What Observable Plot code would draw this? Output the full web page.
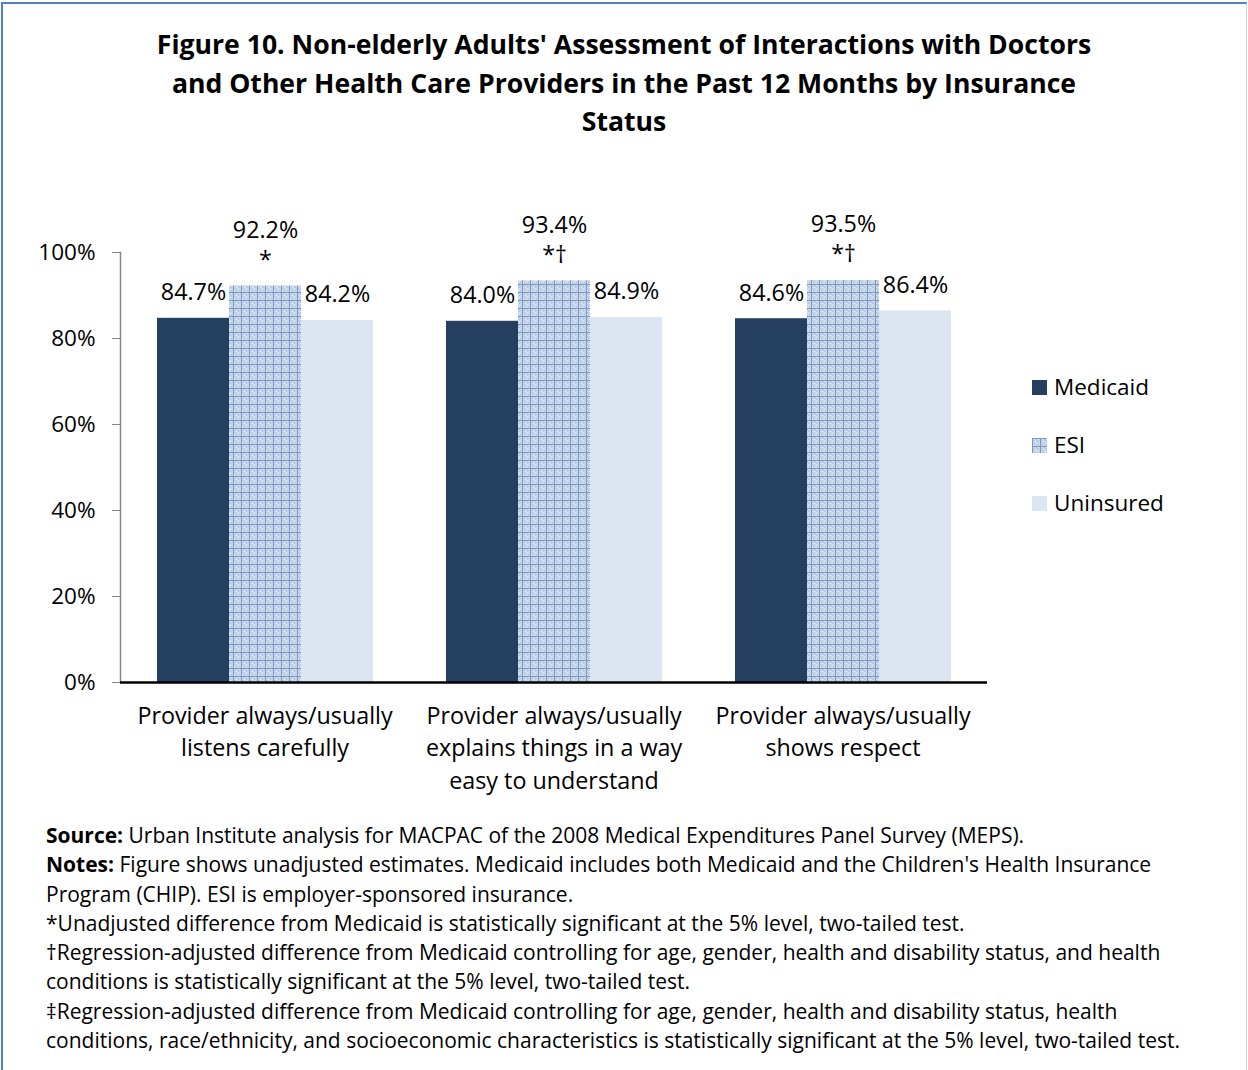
<!DOCTYPE html>
<html><head><meta charset="utf-8">
<script src="https://cdn.jsdelivr.net/npm/d3@7"></script>
<script src="https://cdn.jsdelivr.net/npm/@observablehq/plot@0.6"></script>
<style>
body{margin:0;background:#fff;font-family:"Open Sans", Lato, sans-serif;color:#000;}
#page{position:relative;width:1248px;height:1070px;overflow:hidden;}
#border{position:absolute;left:1px;top:2px;width:1243px;height:1100px;border-left:2px solid #4f81bd;border-top:2px solid #4f81bd;border-right:1px solid #c8d3e3;}
#title{position:absolute;left:0;width:1248px;top:25px;text-align:center;font-weight:bold;font-size:26.6px;line-height:38.5px;}
#chart{position:absolute;left:0;top:180px;}
#legend{position:absolute;left:1032px;top:358px;font-size:22.5px;}
#legend .row{height:58px;line-height:58px;display:flex;align-items:center;}
#legend svg{margin-right:7px;}
#notes{position:absolute;left:46px;top:821px;font-size:21px;line-height:29.3px;white-space:nowrap;}
</style></head>
<body>
<div id="page">
<div id="border"></div>
<div id="title">Figure 10. Non-elderly Adults' Assessment of Interactions with Doctors<br>and Other Health Care Providers in the Past 12 Months by Insurance<br>Status</div>
<div id="chart"></div>
<div id="legend"></div>
<div id="notes"></div>
</div>
<script>
// ---- data ----
const categories = ["listens", "explains", "respect"];
const categoryLabels = [
  "Provider always/usually\nlistens carefully",
  "Provider always/usually\nexplains things in a way\neasy to understand",
  "Provider always/usually\nshows respect"
];
const series = ["Medicaid", "ESI", "Uninsured"];
const medicaid = [84.7, 84.0, 84.6];
const esi = [92.2, 93.4, 93.5];
const uninsured = [84.2, 84.9, 86.4];
const esiMarkers = ["*", "*†", "*†"];
const yTicks = [0, 20, 40, 60, 80, 100];
const colors = ["#243f60", "url(#esiPat)", "#dce6f2"];

const data = [];
categories.forEach((c, i) => {
  data.push({cat: c, series: "Medicaid", value: medicaid[i], label: medicaid[i].toFixed(1) + "%"});
  data.push({cat: c, series: "ESI", value: esi[i], label: esi[i].toFixed(1) + "%\n" + esiMarkers[i]});
  data.push({cat: c, series: "Uninsured", value: uninsured[i], label: uninsured[i].toFixed(1) + "%"});
});
const labelMap = new Map(categories.map((c, i) => [c, categoryLabels[i]]));

const chart = Plot.plot({
  width: 1248, height: 640,
  marginLeft: 119, marginRight: 260, marginTop: 72, marginBottom: 138,
  style: {fontFamily: "'Open Sans', Lato, sans-serif", fontSize: "23px", color: "#000", background: "transparent", overflow: "visible"},
  fx: {domain: categories, padding: 0, label: null},
  x: {domain: series, axis: null, paddingInner: 0, paddingOuter: 0.4836},
  y: {domain: [0, 100], axis: null},
  color: {domain: series, range: colors},
  marks: [
    Plot.barY(data, {fx: "cat", x: "series", y: "value", fill: "series"}),
    Plot.text(data, {fx: "cat", x: "series", y: "value", text: "label", lineAnchor: "bottom", dy: -18, fontSize: 23.3, lineHeight: 1.3, fill: "#000"}),
    Plot.axisY({facetAnchor: "left", ticks: yTicks, tickFormat: d => d + "%", tickSize: 8, tickPadding: 17, stroke: "#868686", fill: "#000", fontSize: 22.5, label: null}),
    Plot.frame({facetAnchor: "left", anchor: "left", stroke: "#868686", strokeWidth: 1.5}),
    Plot.ruleY([0], {stroke: "#000", strokeWidth: 2.5}),
    Plot.axisFx({anchor: "bottom", tickSize: 0, tickPadding: 18, tickFormat: d => labelMap.get(d), fontSize: 23.3, lineHeight: 1.4, label: null, fill: "#000"})
  ]
});

function addPattern(svgSel, id) {
  const defs = svgSel.insert("defs", ":first-child");
  const pat = defs.append("pattern").attr("id", id).attr("patternUnits", "userSpaceOnUse").attr("width", 8).attr("height", 8);
  pat.append("rect").attr("width", 8).attr("height", 8).attr("fill", "#c9d7eb");
  [[2,2],[5,3],[3,5],[6,6],[1,4],[4,1],[6,2],[2,6]].forEach(([x, y]) =>
    pat.append("rect").attr("x", x).attr("y", y).attr("width", 1).attr("height", 1).attr("fill", "#a9bcd8"));
  [[3,3],[5,5],[1,6],[6,1]].forEach(([x, y]) =>
    pat.append("rect").attr("x", x).attr("y", y).attr("width", 1).attr("height", 1).attr("fill", "#e6edf7"));
  pat.append("path").attr("d", "M0 0.5H8M0.5 0V8").attr("stroke", "#7896c4").attr("stroke-width", 1);
}
const svgEl = chart.tagName.toLowerCase() === "svg" ? chart : chart.querySelector("svg");
addPattern(d3.select(svgEl), "esiPat");
document.getElementById("chart").appendChild(chart);

// legend
const legend = d3.select("#legend");
series.forEach((s, i) => {
  const row = legend.append("div").attr("class", "row");
  const sw = row.append("svg").attr("width", 15).attr("height", 15);
  sw.append("rect").attr("width", 15).attr("height", 15).attr("fill", colors[i]);
  row.append("span").text(s);
});

// notes
const notes = [
  "<b>Source:</b> Urban Institute analysis for MACPAC of the 2008 Medical Expenditures Panel Survey (MEPS).",
  "<b>Notes:</b> Figure shows unadjusted estimates. Medicaid includes both Medicaid and the Children's Health Insurance",
  "Program (CHIP). ESI is employer-sponsored insurance.",
  "*Unadjusted difference from Medicaid is statistically significant at the 5% level, two-tailed test.",
  "†Regression-adjusted difference from Medicaid controlling for age, gender, health and disability status, and health",
  "conditions is statistically significant at the 5% level, two-tailed test.",
  "‡Regression-adjusted difference from Medicaid controlling for age, gender, health and disability status, health",
  "conditions, race/ethnicity, and socioeconomic characteristics is statistically significant at the 5% level, two-tailed test."
];
document.getElementById("notes").innerHTML = notes.join("<br>");
</script>
</body></html>
